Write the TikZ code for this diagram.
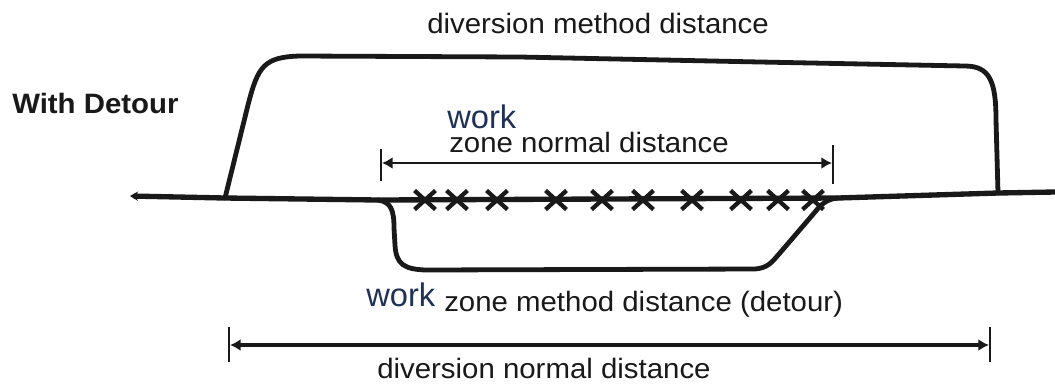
\documentclass[tikz,border=0pt]{standalone}
\usepackage{fontspec}
\setmainfont{Liberation Sans}
\newfontfamily\lblfont[FakeStretch=1.05]{Liberation Sans}
\usetikzlibrary{arrows.meta,shapes.misc}
\definecolor{workblue}{RGB}{30,50,88}
\definecolor{ink}{RGB}{25,25,25}
\begin{document}
\begin{tikzpicture}[x=0.75pt,y=-0.75pt,
  road/.style={draw=ink,line width=4pt,line join=round,line cap=round},
  lane/.style={draw=ink,line width=3.6pt,line join=round,line cap=round},
  dimline/.style={draw=ink,line width=2pt,{Latex[length=8pt,width=9pt]}-{Latex[length=8pt,width=9pt]}},
  tick/.style={draw=ink,line width=1.9pt},
  lbl/.style={inner sep=0pt,anchor=base west,font=\lblfont\fontsize{21}{24}\selectfont,text=ink},
  boldlbl/.style={inner sep=0pt,anchor=base west,font=\lblfont\bfseries\fontsize{21}{24}\selectfont,text=ink},
  worklbl/.style={inner sep=0pt,anchor=base west,font=\fontsize{24.5}{28}\selectfont,text=workblue},
  xmark/.style={cross out,draw=ink,line width=3.2pt,inner sep=0pt,minimum width=12.5pt,minimum height=11pt}
]
\fill[white] (0,0) rectangle (1055,387);
\useasboundingbox (0,0) rectangle (1055,387);

% road coordinates
\coordinate (rL) at (130,196);
\coordinate (rA) at (225,198);
\coordinate (rB) at (378,200);
\coordinate (rC) at (838,198);
\coordinate (rD) at (998,193);
\coordinate (rR) at (1055,192);

% main road
\draw[road,{Stealth[length=6pt,width=7pt]}-] (rL) -- (rA) -- (rB) -- (rC) -- (rD) -- (rR);

% diversion (upper detour)
\draw[lane] (rA) -- (248,105) .. controls (258,66) and (264,57) .. (300,56)
  -- (520,57) -- (760,62) -- (965,66)
  .. controls (990,66) and (996,82) .. (996,120) -- (rD);

% work zone detour (lower)
\draw[lane] (rB) .. controls (391,202) and (394,210) .. (394,228) -- (395,245)
  .. controls (396,265) and (405,269) .. (425,270) -- (755,269)
  .. controls (768,268) and (772,262) .. (779,254) -- (815,212)
  .. controls (822,203) and (828,199) .. (rC);

% crosses on the work zone
\foreach \i/\x in {1/425,2/457,3/497,4/556,5/602,6/643,7/692,8/741,9/778,10/813}
  \node[xmark] (x\i) at (\x,200) {};

% work zone normal distance dimension
\coordinate (nLt) at (381,149);
\coordinate (nLb) at (381,181);
\coordinate (nRt) at (833,145);
\coordinate (nRb) at (833,184);
\coordinate (nL) at (382,163);
\coordinate (nR) at (832,163);
\draw[tick] (nLt) -- (nLb);
\draw[tick] (nRt) -- (nRb);
\draw[dimline] (nL) -- (nR);

% diversion normal distance dimension
\coordinate (dLt) at (229,327);
\coordinate (dLb) at (229,362);
\coordinate (dRt) at (990,327);
\coordinate (dRb) at (990,362);
\coordinate (dL) at (230,345);
\coordinate (dR) at (989,345);
\draw[tick,line width=2.1pt] (dLt) -- (dLb);
\draw[tick,line width=2.1pt] (dRt) -- (dRb);
\draw[dimline,line width=2.6pt] (dL) -- (dR);

% labels
\node[lbl] (t1) at (427,33) {diversion method distance};
\node[boldlbl] (t2) at (12,113) {With Detour};
\node[worklbl] (t3) at (447,128) {work};
\node[lbl] (t4) at (449,152) {zone normal distance};
\node[worklbl] (t5) at (366,306) {work};
\node[lbl] (t6) at (444,311) {zone method distance (detour)};
\node[lbl] (t7) at (377,378) {diversion normal distance};
\end{tikzpicture}
\end{document}
